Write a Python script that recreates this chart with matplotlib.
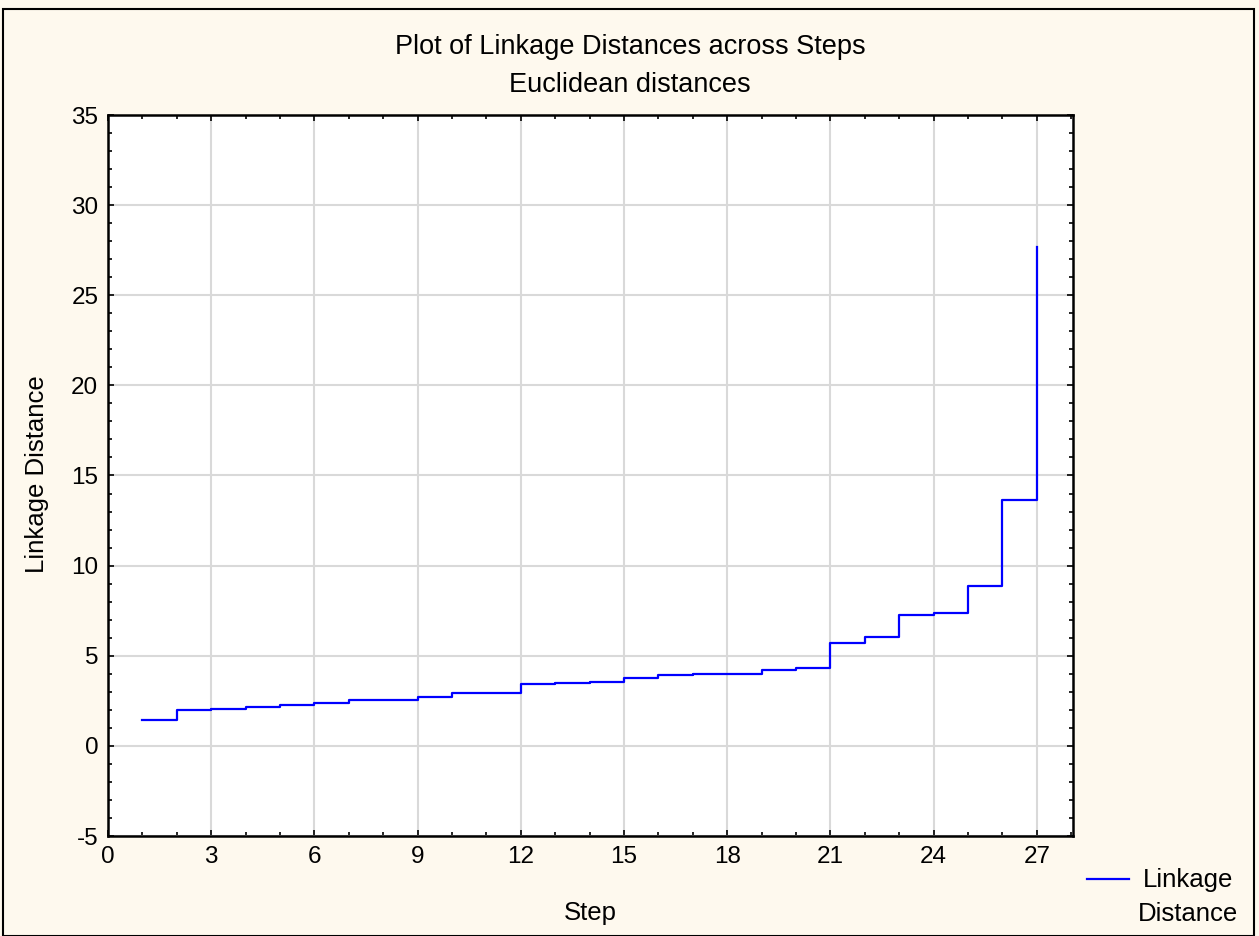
import matplotlib
matplotlib.use("Agg")
import matplotlib.pyplot as plt
from matplotlib.patches import Rectangle
from matplotlib.lines import Line2D
from matplotlib.ticker import MultipleLocator

steps = list(range(1, 28))
linkage = [1.44, 2.00, 2.03, 2.16, 2.27, 2.38, 2.55, 2.57, 2.70, 2.92,
           2.94, 3.42, 3.47, 3.55, 3.79, 3.92, 3.99, 3.99, 4.21, 4.34,
           5.69, 6.05, 7.28, 7.39, 8.87, 13.65, 27.66]
xticks = list(range(0, 28, 3))
yticks = list(range(-5, 36, 5))
series_name = 'Linkage\nDistance'

plt.rcParams['font.family'] = ['Liberation Sans', 'DejaVu Sans']
plt.rcParams['axes.unicode_minus'] = False

W, H = 1259, 936
fig = plt.figure(figsize=(W / 100, H / 100), dpi=100)
fig.patch.set_facecolor('#FEF9EE')
fig.patches.append(Rectangle((3 / W, 0), (1254 - 3) / W, (H - 9) / H,
                             transform=fig.transFigure, fill=False,
                             edgecolor='black', linewidth=1.5))

l, r, t, b = 108, 1073, 115, 836
ax = fig.add_axes([l / W, 1 - b / H, (r - l) / W, (b - t) / H])
ax.set_facecolor('white')
line, = ax.plot(steps, linkage, drawstyle='steps-post', color='#0000FF',
                linewidth=1.6)
ax.set_xlim(0, 28.05)
ax.set_ylim(-5, 35)
ax.set_xticks(xticks)
ax.set_yticks(yticks)
ax.xaxis.set_minor_locator(MultipleLocator(1))
ax.yaxis.set_minor_locator(MultipleLocator(1))
ax.grid(True, which='major', color='#D9D9D9', linewidth=1.5)
ax.set_axisbelow(True)
ax.tick_params(which='both', direction='in', top=True, right=True,
               labelsize=17.5, width=1.2, colors='black')
ax.tick_params(which='major', length=4, pad=7)
ax.tick_params(which='minor', length=3)
for s in ax.spines.values():
    s.set_linewidth(1.8)
    s.set_color('black')

fs = 18.5
fig.text((l + r) / 2 / W, 1 - 913 / H, 'Step', ha='center', va='center', fontsize=fs)
fig.text(37 / W, 1 - 474 / H, 'Linkage Distance', ha='center', va='center',
         rotation=90, fontsize=fs)
fig.text(630 / W, 1 - 47 / H, 'Plot of Linkage Distances across Steps',
         ha='center', va='center', fontsize=19.5)
fig.text(630 / W, 1 - 85 / H, 'Euclidean distances',
         ha='center', va='center', fontsize=19.5)

# legend (outside, bottom right)
fig.add_artist(Line2D([1087 / W, 1129 / W], [1 - 879 / H, 1 - 879 / H],
                      transform=fig.transFigure, color=line.get_color(),
                      linewidth=1.6))
fig.text(1188 / W, 1 - 897 / H, series_name, ha='center', va='center',
         fontsize=fs, linespacing=1.55, multialignment='center')

fig.savefig('out.png', dpi=100, facecolor=fig.get_facecolor())
